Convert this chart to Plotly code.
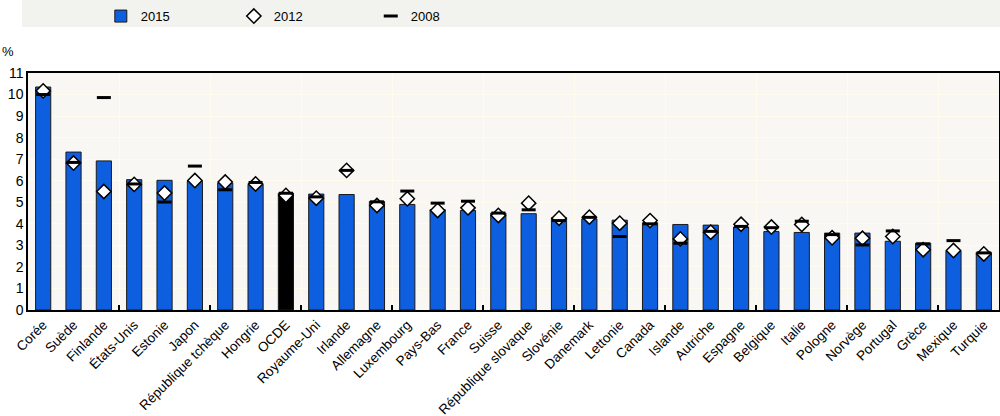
import plotly.graph_objs as go

countries = [
    "Corée", "Suède", "Finlande", "États-Unis", "Estonie", "Japon",
    "République tchèque", "Hongrie", "OCDE", "Royaume-Uni", "Irlande",
    "Allemagne", "Luxembourg", "Pays-Bas", "France", "Suisse",
    "République slovaque", "Slovénie", "Danemark", "Lettonie", "Canada",
    "Islande", "Autriche", "Espagne", "Belgique", "Italie", "Pologne",
    "Norvège", "Portugal", "Grèce", "Mexique", "Turquie",
]
v2015 = [
    10.35, 7.33, 6.92, 6.05, 6.02, 5.98, 5.89, 5.82, 5.43, 5.38, 5.36,
    5.04, 4.90, 4.66, 4.62, 4.50, 4.47, 4.28, 4.23, 4.17, 4.05, 3.97,
    3.94, 3.85, 3.64, 3.60, 3.57, 3.57, 3.19, 3.10, 2.73, 2.68,
]
v2012 = [
    10.17, 6.82, 5.50, 5.83, 5.43, 6.01, 5.94, 5.85, 5.32, 5.19, 6.48,
    4.85, 5.16, 4.62, 4.74, 4.39, 4.96, 4.26, 4.31, 4.03, 4.15, 3.30,
    3.61, 3.98, 3.85, 3.97, 3.35, 3.33, 3.41, 2.80, 2.76, 2.60,
]
v2008 = [
    10.00, 6.85, 9.86, 5.85, 5.01, 6.68, 5.58, 5.92, 5.42, 5.25, 6.48,
    5.02, 5.52, 4.96, 5.05, 4.50, 4.65, 4.15, 4.30, 3.41, 4.00, 3.10,
    3.65, 3.88, 3.82, 4.12, 3.50, 3.02, 3.67, 3.07, 3.22, 2.65,
]
y_ticks = list(range(0, 12))

BLUE = "#0E5FE0"
FONT = "Liberation Sans, Arial, sans-serif"

xs = list(range(len(countries)))
bar_colors = ["#000000" if c == "OCDE" else BLUE for c in countries]
boundaries = [i + 0.5 for i in range(2, len(countries) - 1, 3)]

fig = go.Figure()
fig.add_trace(go.Bar(
    x=xs, y=v2015, name="2015", width=0.5, legend="legend",
    marker={"color": bar_colors, "line": {"color": "#1a1a1a", "width": 1}},
))
fig.add_trace(go.Scatter(
    x=xs, y=v2012, name="2012", mode="markers", legend="legend2",
    marker={"symbol": "diamond", "size": 11, "color": "white",
            "line": {"color": "black", "width": 1.5}},
))
fig.add_trace(go.Scatter(
    x=xs, y=v2008, name="2008", mode="markers", legend="legend3",
    marker={"symbol": "line-ew", "size": 10,
            "line": {"color": "black", "width": 3}},
))

# legend band (plot area is 237px tall, top at 73px)
fig.add_shape(type="rect", xref="paper", yref="paper",
              x0=-0.0062, x1=1.002, y0=1.194, y1=1.31,
              fillcolor="#F2F2EE", line={"width": 0}, layer="below")
fig.add_annotation(text="%", xref="paper", yref="paper", x=-0.0206, y=1.089,
                   xanchor="center", yanchor="middle", showarrow=False,
                   font={"family": FONT, "size": 13, "color": "black"})


def legend_box(x):
    return {"orientation": "h", "x": x, "y": 1.24, "xanchor": "left",
            "yanchor": "middle", "bgcolor": "rgba(0,0,0,0)",
            "font": {"family": FONT, "size": 13}, "itemwidth": 30}


fig.update_layout(
    width=1000, height=416,
    margin={"l": 28, "r": 1, "t": 73, "b": 106, "autoexpand": False},
    paper_bgcolor="white", plot_bgcolor="#F8F7F4",
    showlegend=True,
    font={"family": FONT, "size": 13, "color": "black"},
    legend=legend_box(0.075),
    legend2=legend_box(0.212),
    legend3=legend_box(0.353),
)
fig.update_xaxes(
    range=[-0.5, len(countries) - 0.5], automargin=False,
    tickmode="array", tickvals=xs, ticktext=countries, tickangle=-45,
    ticks="", showgrid=False, zeroline=False,
    showline=True, linecolor="black", linewidth=1.5, mirror=True,
    tickfont={"family": FONT, "size": 13.5},
    minor={"tickmode": "array", "tickvals": boundaries, "ticks": "inside",
           "ticklen": 5, "tickcolor": "black", "tickwidth": 1.5,
           "showgrid": True, "gridcolor": "#FFFCEE", "gridwidth": 1},
)
fig.update_yaxes(
    range=[0, 11], tickmode="array", tickvals=y_ticks, automargin=False,
    showgrid=True, gridcolor="#FFFCEE", gridwidth=1, zeroline=False,
    showline=True, linecolor="black", linewidth=1.5, mirror=True,
    ticks="", tickfont={"family": FONT, "size": 14},
)

# the page body has a default 8px margin; drop it so the figure sits at 0,0
fig.write_html("out.html", config={"displayModeBar": False},
               post_script="document.body.style.margin='0';")
